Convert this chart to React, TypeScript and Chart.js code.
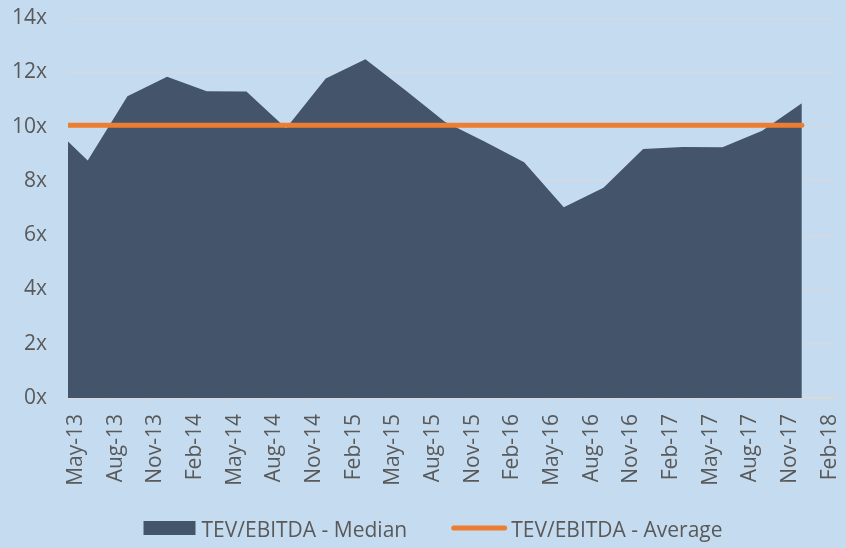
import React, { useEffect, useRef } from 'react';
import { Chart, registerables } from 'chart.js';

Chart.register(...registerables);

// Observation dates of the series
const PERIOD_DATES = [
  '2013-05-01', '2013-06-16', '2013-09-16', '2013-12-16', '2014-03-16',
  '2014-06-16', '2014-09-16', '2014-12-16', '2015-03-16', '2015-06-16',
  '2015-09-16', '2015-12-16', '2016-03-16', '2016-06-16', '2016-09-16',
  '2016-12-16', '2017-03-16', '2017-06-16', '2017-09-16', '2017-12-16',
];

const MEDIAN_VALUES = [
  9.45, 8.75, 11.12, 11.84, 11.30,
  11.29, 9.94, 11.77, 12.48, 11.35,
  10.18, 9.45, 8.69, 7.03, 7.75,
  9.17, 9.25, 9.24, 9.85, 10.86,
];

const AVERAGE_VALUE = 10.05;

const X_TICK_LABELS = [
  'May-13', 'Aug-13', 'Nov-13', 'Feb-14', 'May-14', 'Aug-14', 'Nov-14',
  'Feb-15', 'May-15', 'Aug-15', 'Nov-15', 'Feb-16', 'May-16', 'Aug-16',
  'Nov-16', 'Feb-17', 'May-17', 'Aug-17', 'Nov-17', 'Feb-18',
];

const SERIES_NAMES = ['TEV/EBITDA - Median', 'TEV/EBITDA - Average'];

const BG = '#c5dcf0';
const AREA_COLOR = '#44546a';
const AVG_COLOR = '#ed7d31';
const GRID = '#d9d9d9';
const TEXT = '#595959';
const FONT_FAMILY = '"Open Sans", "Noto Sans", sans-serif';
const FONT_SIZE = 21;

// months since May 2013 (axis origin)
function monthsFromStart(d: string): number {
  const [y, m, day] = d.split('-').map(Number);
  return (y - 2013) * 12 + (m - 5) + (day - 1) / 30.5;
}

const legendPlugin = {
  id: 'bottomLegend',
  afterDraw(chart: any) {
    const ctx = chart.ctx as CanvasRenderingContext2D;
    const ds = chart.data.datasets;
    ctx.save();
    ctx.font = `${FONT_SIZE}px ${FONT_FAMILY}`;
    ctx.textBaseline = 'alphabetic';
    ctx.textAlign = 'left';
    const w1 = ctx.measureText(ds[0].label).width;
    const w2 = ctx.measureText(ds[1].label).width;
    const boxW = 52;
    const lineW = 56;
    const gapText1 = 6;
    const gapText2 = 4;
    const itemGap = 44;
    const total = boxW + gapText1 + w1 + itemGap + lineW + gapText2 + w2;
    let x = chart.width / 2 + 10 - total / 2;
    const cy = 528;
    const baseY = 537;
    ctx.fillStyle = ds[0].backgroundColor;
    ctx.fillRect(x, cy - 7, boxW, 14);
    x += boxW + gapText1;
    ctx.fillStyle = TEXT;
    ctx.fillText(ds[0].label, x, baseY);
    x += w1 + itemGap;
    ctx.strokeStyle = ds[1].borderColor;
    ctx.lineWidth = 5;
    ctx.lineCap = 'round';
    ctx.beginPath();
    ctx.moveTo(x + 2.5, cy);
    ctx.lineTo(x + lineW - 2.5, cy);
    ctx.stroke();
    x += lineW + gapText2;
    ctx.fillStyle = TEXT;
    ctx.fillText(ds[1].label, x, baseY);
    ctx.restore();
  },
};

export default function App() {
  const canvasRef = useRef<HTMLCanvasElement | null>(null);

  useEffect(() => {
    if (!canvasRef.current) return;
    const xs = PERIOD_DATES.map(monthsFromStart);
    const medianData = xs.map((x, i) => ({ x, y: MEDIAN_VALUES[i] }));
    const averageData = [
      { x: xs[0], y: AVERAGE_VALUE },
      { x: xs[xs.length - 1], y: AVERAGE_VALUE },
    ];
    const font = { family: FONT_FAMILY, size: FONT_SIZE };

    const chart = new Chart(canvasRef.current, {
      type: 'line',
      data: {
        datasets: [
          {
            label: SERIES_NAMES[0],
            data: medianData,
            fill: 'origin',
            backgroundColor: AREA_COLOR,
            borderColor: AREA_COLOR,
            borderWidth: 0,
            pointRadius: 0,
            tension: 0,
            order: 2,
          },
          {
            label: SERIES_NAMES[1],
            data: averageData,
            fill: false,
            borderColor: AVG_COLOR,
            backgroundColor: AVG_COLOR,
            borderWidth: 5,
            borderCapStyle: 'round',
            pointRadius: 0,
            tension: 0,
            order: 1,
          },
        ],
      },
      options: {
        animation: false,
        responsive: true,
        maintainAspectRatio: false,
        layout: { padding: { left: 0, right: 11, top: 18, bottom: 0 } },
        plugins: {
          legend: { display: false },
          tooltip: { enabled: false },
        },
        scales: {
          x: {
            type: 'linear',
            min: 0,
            max: 58,
            afterBuildTicks: (scale: any) => {
              scale.ticks = X_TICK_LABELS.map((_, i) => ({ value: i * 3 }));
            },
            afterFit: (scale: any) => {
              scale.height = 150;
              scale.paddingLeft = 0;
              scale.paddingRight = 0;
            },
            grid: {
              drawOnChartArea: false,
              drawTicks: true,
              tickLength: 6,
              color: GRID,
              lineWidth: 1,
            },
            border: { display: true, color: GRID, width: 2 },
            ticks: {
              autoSkip: false,
              minRotation: 90,
              maxRotation: 90,
              padding: 10,
              labelOffset: 8,
              color: TEXT,
              font,
              callback: (v: any) => X_TICK_LABELS[Math.round(Number(v) / 3)] ?? '',
            },
          },
          y: {
            min: 0,
            max: 14,
            afterFit: (scale: any) => {
              scale.width = 68;
              scale.paddingTop = 0;
              scale.paddingBottom = 0;
            },
            ticks: {
              stepSize: 2,
              padding: 21,
              color: TEXT,
              font,
              callback: (v: any) => `${v}x`,
            },
            grid: { color: GRID, lineWidth: 1, drawTicks: false },
            border: { display: false },
          },
        },
      },
      plugins: [legendPlugin],
    } as any);

    return () => chart.destroy();
  }, []);

  return (
    <div
      style={{
        position: 'fixed',
        left: 0,
        top: 0,
        width: 846,
        height: 548,
        background: BG,
      }}
    >
      <canvas ref={canvasRef} />
    </div>
  );
}
